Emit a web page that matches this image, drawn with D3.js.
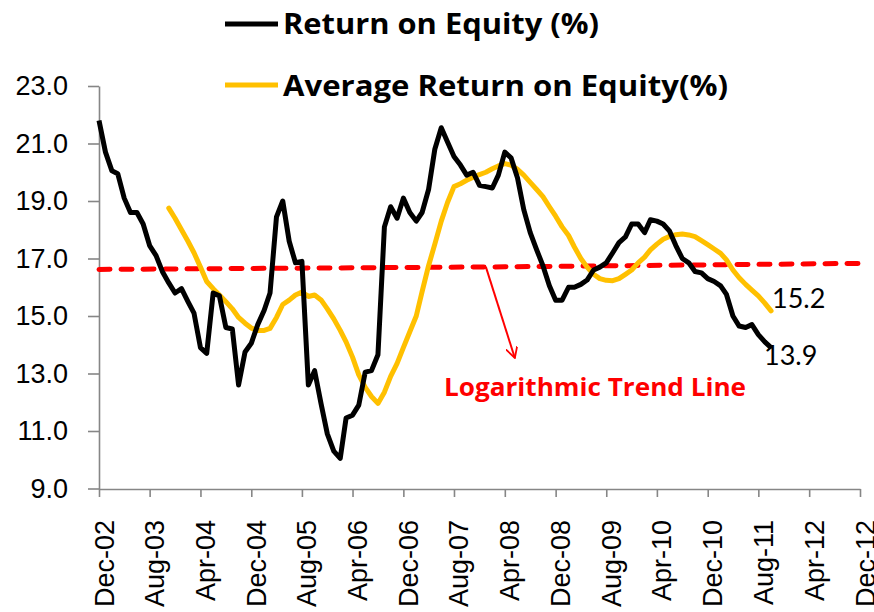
<!DOCTYPE html>
<html>
<head>
<meta charset="utf-8">
<script src="https://cdn.jsdelivr.net/npm/d3@7"></script>
<style>
  body { margin: 0; background: #fff; }
  svg { display: block; font-family: Lato, "Open Sans", sans-serif; }
</style>
</head>
<body>
<div id="chart"></div>
<script>
// monthly series, first point is Dec-02
const roeStart = "Dec-02";
const roeValues = [
  21.8, 20.7, 20.05, 19.95, 19.1, 18.6, 18.6, 18.2, 17.45, 17.1,
  16.55, 16.15, 15.8, 15.95, 15.5, 15.1, 13.9, 13.7, 15.8, 15.7,
  14.6, 14.55, 12.6, 13.75, 14.05, 14.7, 15.2, 15.8, 18.45, 19.0,
  17.6, 16.85, 16.9, 12.6, 13.1, 11.95, 10.9, 10.3, 10.05, 11.45,
  11.55, 11.9, 13.05, 13.1, 13.65, 18.1, 18.8, 18.4, 19.1, 18.6,
  18.3, 18.6, 19.4, 20.8, 21.55, 21.05, 20.55, 20.25, 19.9, 20.0,
  19.55, 19.5, 19.45, 19.9, 20.7, 20.5, 19.8, 18.7, 17.9, 17.3,
  16.75, 16.05, 15.55, 15.55, 16.0, 16.0, 16.1, 16.25, 16.6, 16.7,
  16.85, 17.2, 17.55, 17.75, 18.2, 18.2, 17.9, 18.35, 18.3, 18.2,
  17.95, 17.45, 17.0, 16.85, 16.55, 16.5, 16.3, 16.2, 16.05, 15.75,
  15.0, 14.65, 14.6, 14.7, 14.35, 14.1, 13.9
];

// moving average starts later, first point is Nov-03
const avgStart = "Nov-03";
const avgValues = [
  18.75, 18.4, 18.0, 17.6, 17.2, 16.7, 16.2, 15.95, 15.73, 15.5,
  15.25, 14.95, 14.75, 14.58, 14.5, 14.5, 14.57, 14.95, 15.4, 15.55,
  15.73, 15.83, 15.68, 15.73, 15.56, 15.25, 14.9, 14.5, 14.1, 13.57,
  12.95, 12.52, 12.2, 11.96, 12.35, 12.9, 13.35, 13.9, 14.45, 15.0,
  15.85, 16.75, 17.5, 18.3, 18.95, 19.5, 19.6, 19.72, 19.83, 19.92,
  20.0, 20.12, 20.22, 20.3, 20.25, 20.1, 19.9, 19.65, 19.4, 19.15,
  18.8, 18.47, 18.1, 17.8, 17.4, 17.0, 16.7, 16.45, 16.3, 16.24,
  16.23, 16.3, 16.45, 16.6, 16.85, 17.05, 17.3, 17.5, 17.67, 17.77,
  17.83, 17.85, 17.82, 17.76, 17.62, 17.48, 17.33, 17.18, 16.95, 16.6,
  16.33, 16.1, 15.9, 15.7, 15.45, 15.18
];

// logarithmic trend line
const trendDates = ["Dec-02", "Apr-08", "Dec-12"];
const trendValues = [16.62, 16.71, 16.83];

const xTickLabels = ["Dec-02", "Aug-03", "Apr-04", "Dec-04", "Aug-05", "Apr-06",
  "Dec-06", "Aug-07", "Apr-08", "Dec-08", "Aug-09", "Apr-10", "Dec-10",
  "Aug-11", "Apr-12", "Dec-12"];
const yTicks = [9, 11, 13, 15, 17, 19, 21, 23];

const seriesNames = ["Return on Equity (%)", "Average Return on Equity(%)"];
const endLabels = ["13.9", "15.2"];
const trendLabel = "Logarithmic Trend Line";

const width = 874, height = 612;
const parse = d3.timeParse("%b-%y");
const fmt = d3.timeFormat("%b-%y");

const x = d3.scaleTime()
  .domain([parse(xTickLabels[0]), parse(xTickLabels[xTickLabels.length - 1])])
  .range([99, 860]);
const y = d3.scaleLinear().domain([9, 23]).range([488.5, 86]);

const toPoints = (start, vals) => vals.map((v, i) => ({
  date: d3.timeMonth.offset(parse(start), i), value: v
}));
const roe = toPoints(roeStart, roeValues);
const avg = toPoints(avgStart, avgValues);
const trend = trendDates.map((d, i) => ({ date: parse(d), value: trendValues[i] }));

const svg = d3.select("#chart").append("svg")
  .attr("width", width)
  .attr("height", height);

// axes
const yAxis = svg.append("g")
  .attr("transform", "translate(99,0)")
  .call(d3.axisLeft(y).tickValues(yTicks).tickFormat(d3.format(".1f"))
    .tickSize(11).tickSizeOuter(0).tickPadding(20));

const xAxis = svg.append("g")
  .attr("transform", "translate(0,489)")
  .call(d3.axisBottom(x).tickValues(xTickLabels.map(parse)).tickFormat(fmt)
    .tickSize(8).tickSizeOuter(0));

[yAxis, xAxis].forEach(g => {
  g.selectAll("path, line").attr("stroke", "#868686").attr("stroke-width", 1.6);
  g.selectAll("text").attr("fill", "#000").style("font-size", "27px");
});

xAxis.selectAll("text")
  .attr("transform", "rotate(-90)")
  .attr("text-anchor", "end")
  .attr("x", -31)
  .attr("y", 14)
  .attr("dy", 0);

const line = d3.line()
  .x(d => x(d.date))
  .y(d => y(d.value));

// trend line
svg.append("path")
  .datum(trend)
  .attr("fill", "none")
  .attr("stroke", "#ff0000")
  .attr("stroke-width", 5)
  .attr("stroke-linecap", "round")
  .attr("stroke-dasharray", "11,11")
  .attr("d", line);

svg.append("path")
  .datum(avg)
  .attr("fill", "none")
  .attr("stroke", "#ffc000")
  .attr("stroke-width", 5)
  .attr("stroke-linejoin", "round")
  .attr("stroke-linecap", "round")
  .attr("d", line);

svg.append("path")
  .datum(roe)
  .attr("fill", "none")
  .attr("stroke", "#000")
  .attr("stroke-width", 5)
  .attr("stroke-linejoin", "round")
  .attr("d", line);

// end value labels
const lastRoe = roe[roe.length - 1], lastAvg = avg[avg.length - 1];
svg.append("text")
  .attr("x", x(lastRoe.date) - 7)
  .attr("y", y(lastRoe.value) + 17)
  .style("font-size", "27px")
  .text(endLabels[0]);
svg.append("text")
  .attr("x", x(lastAvg.date) + 1)
  .attr("y", y(lastAvg.value) - 3)
  .style("font-size", "27px")
  .text(endLabels[1]);

// trend annotation + arrow
svg.append("defs").append("marker")
  .attr("id", "arrow")
  .attr("viewBox", "0 0 12 12")
  .attr("refX", 11).attr("refY", 6)
  .attr("markerWidth", 12).attr("markerHeight", 12)
  .attr("markerUnits", "userSpaceOnUse")
  .attr("orient", "auto")
  .append("path")
  .attr("d", "M0,0 L11,6 L0,12")
  .attr("fill", "none")
  .attr("stroke", "#ff0000")
  .attr("stroke-width", 1.8);

const arrowDate = parse("Jan-08");
svg.append("line")
  .attr("x1", x(arrowDate)).attr("y1", y(trendValues[1]))
  .attr("x2", x(arrowDate) + 29).attr("y2", 358)
  .attr("stroke", "#ff0000")
  .attr("stroke-width", 2)
  .attr("marker-end", "url(#arrow)");

svg.append("text")
  .attr("x", 444)
  .attr("y", 396)
  .attr("fill", "#ff0000")
  .attr("textLength", 302)
  .attr("lengthAdjust", "spacingAndGlyphs")
  .style("font-family", "'Open Sans', sans-serif")
  .style("font-size", "25px")
  .style("font-weight", "bold")
  .text(trendLabel);

// legend
const legend = svg.append("g");
[["#000", 24, 34, 316], ["#ffc000", 85, 96, 445]].forEach(([c, ly, ty, len], i) => {
  legend.append("line")
    .attr("x1", 225).attr("x2", 278)
    .attr("y1", ly).attr("y2", ly)
    .attr("stroke", c)
    .attr("stroke-width", 5);
  legend.append("text")
    .attr("x", 283).attr("y", ty)
    .attr("textLength", len)
    .attr("lengthAdjust", "spacingAndGlyphs")
    .style("font-family", "'Open Sans', sans-serif")
    .style("font-size", "28px")
    .style("font-weight", "bold")
    .text(seriesNames[i]);
});
</script>
</body>
</html>
